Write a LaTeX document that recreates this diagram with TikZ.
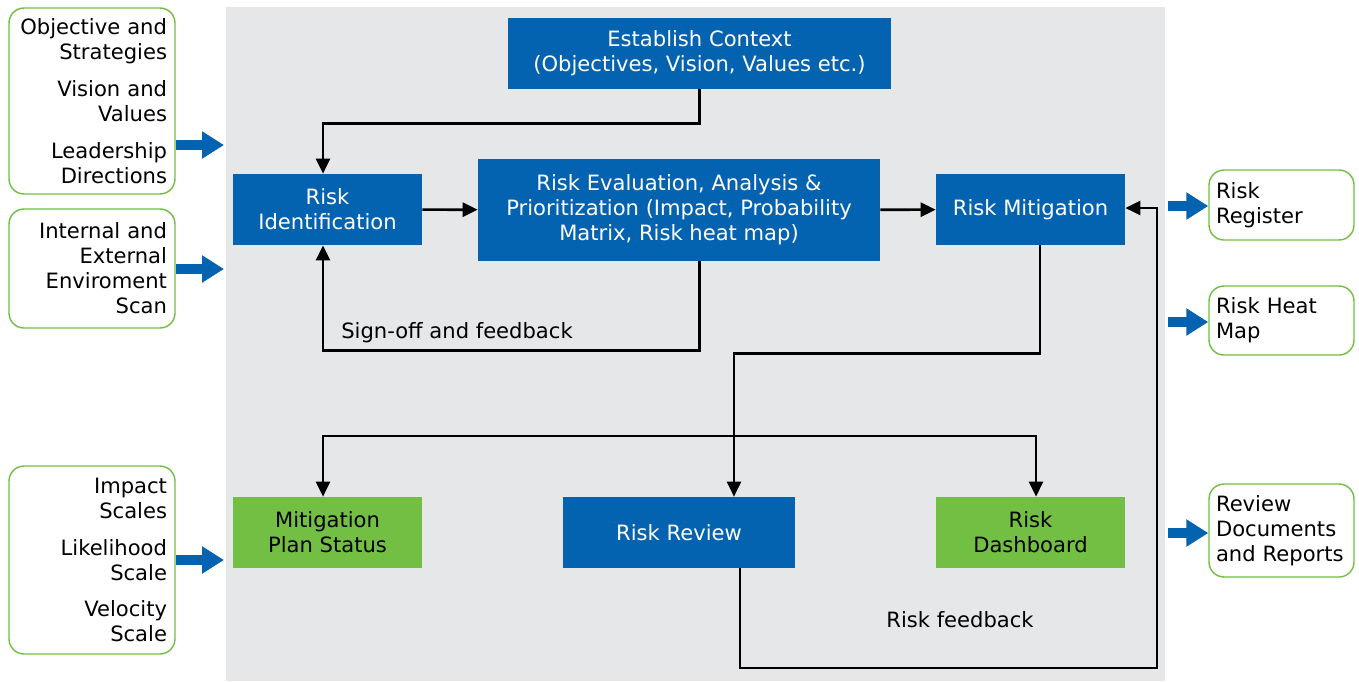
\documentclass[tikz,border=0pt]{standalone}
\usepackage{fontspec}
\setmainfont{DejaVu Sans}
\usetikzlibrary{arrows.meta,positioning,calc}
\definecolor{riskblue}{RGB}{4,99,176}
\definecolor{riskgreen}{RGB}{114,191,68}
\definecolor{panelgray}{RGB}{230,231,233}

\begin{document}
\begin{tikzpicture}[x=0.02cm,y=-0.02cm,font=\fontsize{12}{14.2}\selectfont,
  bluebox/.style={fill=riskblue,text=white,align=center,inner sep=0pt},
  greenbox/.style={fill=riskgreen,align=center,inner sep=0pt},
  sidebox/.style={draw=riskgreen,line width=0.8pt,rounded corners=0.3cm,fill=white,inner ysep=0pt},
  link/.style={line width=1.5pt,-{Triangle[length=0.3cm,width=0.28cm]}},
  fatarrow/.style={draw=riskblue,line width=0.2cm,-{Triangle[length=0.44cm,width=0.52cm]}}]
  \useasboundingbox (0,0) rectangle (1359,681);
  \node[fill=panelgray,anchor=north west,inner sep=0pt,minimum width=18.78cm,
        minimum height=13.48cm] (panel) at (226,7) {};

  % process boxes
  \node[bluebox,minimum width=7.66cm,minimum height=1.42cm] (ctx) at (699.5,53.5)
    {Establish Context\\(Objectives, Vision, Values etc.)};
  \node[bluebox,minimum width=3.78cm,minimum height=1.42cm] (rid) at (327.5,209.5)
    {Risk\\Identification};
  \node[bluebox,minimum width=8.04cm,minimum height=2.04cm] (eval) at (679,210)
    {Risk Evaluation, Analysis \&\\Prioritization (Impact, Probability\\Matrix, Risk heat map)};
  \node[bluebox,minimum width=3.78cm,minimum height=1.42cm] (mit) at (1030.5,209.5)
    {Risk Mitigation};
  \node[greenbox,minimum width=3.78cm,minimum height=1.42cm] (mps) at (327.5,532.5)
    {Mitigation\\Plan Status};
  \node[bluebox,minimum width=4.64cm,minimum height=1.42cm] (rrv) at (679,532.5)
    {Risk Review};
  \node[greenbox,minimum width=3.78cm,minimum height=1.42cm] (dash) at (1030.5,532.5)
    {Risk\\Dashboard};

  % inputs and outputs
  \node[sidebox,text width=3.0cm,inner xsep=0.16cm,align=right,
        minimum height=3.72cm] (lb1) at (92,101)
    {Objective and\\Strategies\\[0.24cm]Vision and\\Values\\[0.24cm]Leadership\\Directions};
  \node[sidebox,text width=3.0cm,inner xsep=0.16cm,align=right,
        minimum height=2.38cm] (lb2) at (92,268.5)
    {Internal and\\External\\Enviroment\\Scan};
  \node[sidebox,text width=3.0cm,inner xsep=0.16cm,align=right,
        minimum height=3.76cm] (lb3) at (92,560)
    {Impact\\Scales\\[0.24cm]Likelihood\\Scale\\[0.24cm]Velocity\\Scale};
  \node[sidebox,text width=2.62cm,inner xsep=0.14cm,align=left,
        minimum height=1.4cm] (rb1) at (1281.5,205) {Risk\\Register};
  \node[sidebox,text width=2.62cm,inner xsep=0.14cm,align=left,
        minimum height=1.38cm] (rb2) at (1281.5,320.5) {Risk Heat\\Map};
  \node[sidebox,text width=2.62cm,inner xsep=0.14cm,align=left,
        minimum height=1.86cm] (rb3) at (1281.5,530.5) {Review\\Documents\\and Reports};

  \foreach \b/\y in {lb1/145,lb2/269,lb3/560}
    \draw[fatarrow] (\b.east |- 0,\y) -- ([xshift=-0.04cm]panel.west |- 0,\y);
  \foreach \b/\y in {rb1/206,rb2/322,rb3/533}
    \draw[fatarrow] ([xshift=0.04cm]panel.east |- 0,\y) -- (\b.west |- 0,\y);

  % flow
  \draw[link] (ctx.south) -- ++(0,34) -| ([xshift=-0.09cm]rid.north);
  \draw[link] (rid) -- (eval);
  \draw[link] (eval) -- (mit);
  \draw[link] (eval.south -| ctx) -- ++(0,89) -| ([xshift=-0.09cm]rid.south);
  \node (sign) at (457,333) {Sign-off and feedback};
  \draw[link] ([xshift=0.19cm]mit.south) -- ++(0,108) -| ([xshift=1.1cm]rrv.north);
  \coordinate (split) at (734,436);
  \draw[link] (split) -| ([xshift=-0.09cm]mps.north);
  \draw[link] (split) -| ([xshift=0.11cm]dash.north);
  \coordinate (loop) at (1157,668);
  \draw[link] ([xshift=1.22cm]rrv.south) |- (loop) |- ([yshift=0.03cm]mit.east);
  \node (rfb) at (960,620) {Risk feedback};
\end{tikzpicture}
\end{document}
